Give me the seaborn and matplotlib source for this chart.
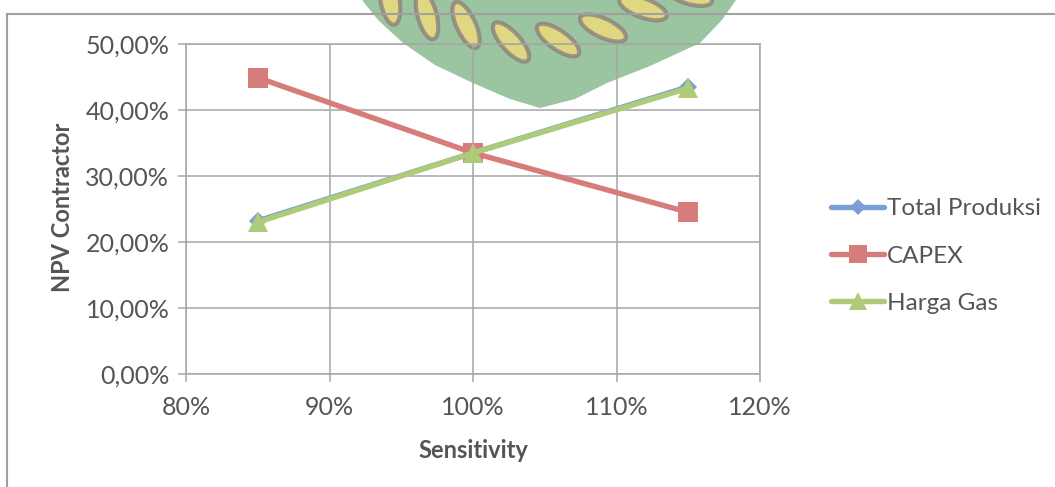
import numpy as np
import pandas as pd
import matplotlib
matplotlib.use("Agg")
import matplotlib.pyplot as plt
from matplotlib.patches import Polygon, Rectangle, Ellipse
from matplotlib.transforms import IdentityTransform
from matplotlib.ticker import FuncFormatter, MultipleLocator
import seaborn as sns

# Sensitivity levels (fraction of base case) and NPV contractor results
sensitivity = [0.85, 1.00, 1.15]
total_produksi = [0.232, 0.335, 0.435]
capex = [0.449, 0.335, 0.245]
harga_gas = [0.230, 0.335, 0.433]

series_names = ["Total Produksi", "CAPEX", "Harga Gas"]
x_ticks = [0.8, 0.9, 1.0, 1.1, 1.2]

df = pd.DataFrame({
    "Sensitivity": sensitivity * 3,
    "NPV": total_produksi + capex + harga_gas,
    "Series": [s for s in series_names for _ in sensitivity],
})

sns.set_theme(style="white")
plt.rcParams["font.family"] = ["Lato", "DejaVu Sans"]

W, H = 1055, 487
TXT = "#555555"
colors = {"Total Produksi": "#7A9FD4", "CAPEX": "#D67C7A", "Harga Gas": "#AECB7A"}
markers = {"Total Produksi": "D", "CAPEX": "s", "Harga Gas": "^"}
msizes = {"Total Produksi": 9.5, "CAPEX": 14.5, "Harga Gas": 15}
LW = 3.9

fig = plt.figure(figsize=(W / 100, H / 100), dpi=100)
ax = fig.add_axes([186 / W, 1 - 374 / H, (760 - 186) / W, (374 - 44) / H])
ax.patch.set_alpha(0)

for name in series_names:
    sub = df[df["Series"] == name]
    sns.lineplot(data=sub, x="Sensitivity", y="NPV", ax=ax, color=colors[name],
                 linewidth=LW, marker=markers[name], markersize=msizes[name],
                 markeredgewidth=0, label=name, legend=False, zorder=3)

ax.set_xlim(0.8, 1.2)
ax.set_ylim(0, 0.5)
ax.set_xticks(x_ticks)
ax.yaxis.set_major_locator(MultipleLocator(0.1))
ax.xaxis.set_major_formatter(FuncFormatter(lambda v, p: f"{v * 100:.0f}%"))
ax.yaxis.set_major_formatter(FuncFormatter(lambda v, p: f"{v * 100:.2f}%".replace(".", ",")))
ax.grid(True, color="#A6A6A6", linewidth=1.1)
ax.set_axisbelow(True)
for sp in ax.spines.values():
    sp.set_color("#A6A6A6")
    sp.set_linewidth(1.1)
ax.tick_params(axis="both", which="major", direction="out", length=6, width=1.1,
               color="#A6A6A6", labelsize=18, labelcolor=TXT)
ax.tick_params(axis="y", pad=6)
ax.tick_params(axis="x", pad=10)
ax.tick_params(left=True, bottom=True)

ax.set_xlabel("Sensitivity", fontsize=17, fontweight="bold", color=TXT)
ax.set_ylabel("NPV Contractor", fontsize=17, fontweight="bold", color=TXT)
ax.xaxis.label.set_va("center")
ax.yaxis.label.set_va("center")
ax.xaxis.set_label_coords((473 - 186) / 574, (374 - 450) / 330)
ax.yaxis.set_label_coords((62 - 186) / 574, (374 - 207) / 330)

# Legend to the right of the plot area
handles = [plt.Line2D([], [], color=colors[n], linewidth=LW, marker=markers[n],
                      markersize=msizes[n] * 0.85, markeredgewidth=0) for n in series_names]
fig.legend(handles, series_names, loc="center left",
           bbox_to_anchor=(809 / W, 1 - 256 / H), frameon=False,
           fontsize=17.5, labelcolor=TXT, handlelength=2.2, handletextpad=0.1,
           labelspacing=1.07)

# Outer chart frame
fig.add_artist(Rectangle((7 / W, -0.2), 1.2, 1 - 14 / H + 0.2, transform=fig.transFigure,
                         fill=False, edgecolor="#A0A0A0", linewidth=1.5))

# Faint emblem behind the plot (pixel coordinates, y measured from the top)
def px(x, y):
    return (x, H - y)

shield_pts = [(352, -5), (362, 0), (378, 20), (403, 43), (435, 65), (473, 83),
              (510, 99), (540, 108), (575, 99), (607, 83), (650, 66), (700, 43),
              (722, 20), (736, 0), (745, -5)]
fig.add_artist(Polygon([px(x, y) for x, y in shield_pts], closed=True,
                       transform=IdentityTransform(), facecolor="#3F8F4A",
                       edgecolor="none", alpha=0.52, zorder=-2))

stripes = [(390, 0, 100), (427, 15, 105), (466, 25, 115), (511, 42, 132),
           (558, 40, 145), (603, 28, 155), (643, 8, 160), (688, -6, 162)]
for sx, sy, ang in stripes:
    fig.add_artist(Ellipse(px(sx, sy), 50, 19, angle=ang, transform=IdentityTransform(),
                           facecolor="#F8DE7A", edgecolor="#8A7C7C", linewidth=3.0,
                           alpha=0.75, zorder=-1))

fig.savefig("out.png", dpi=100, facecolor="white")
